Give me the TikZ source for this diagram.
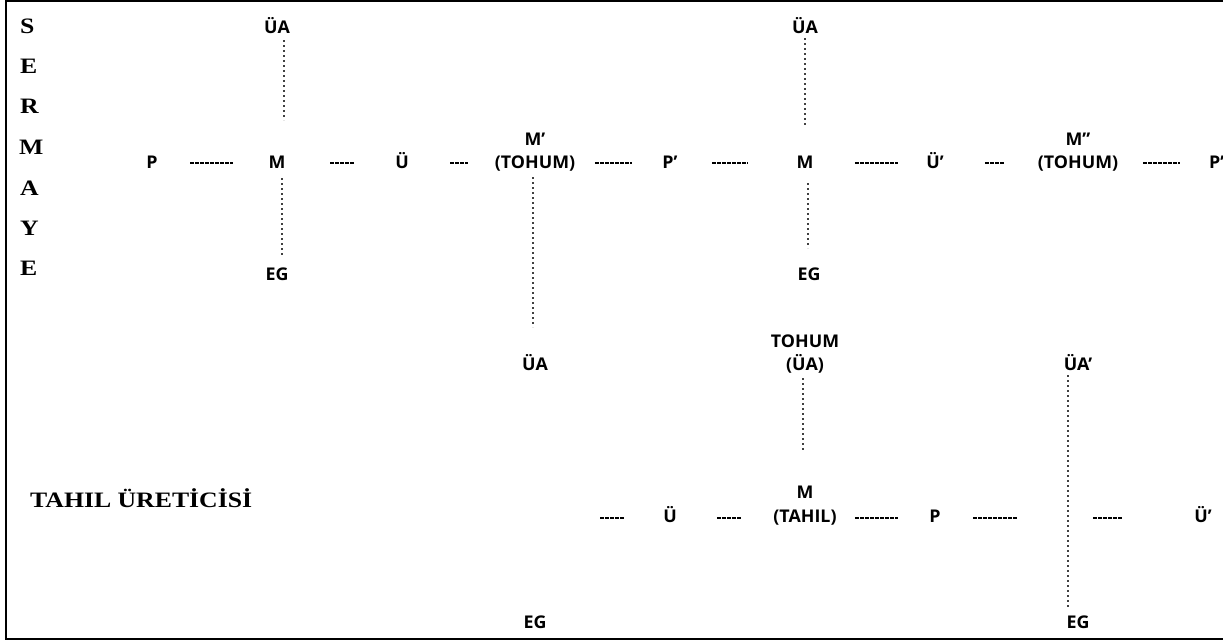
\documentclass[tikz,border=0pt]{standalone}
\usepackage{fontspec}
\setmainfont{Liberation Serif}[FakeStretch=1.17]
\newfontfamily\labfont{Open Sans}[FakeStretch=1.02]
\tikzset{
  lab/.style={inner sep=0pt, anchor=base, font=\labfont\bfseries\fontsize{17.5}{20}\selectfont},
  ser/.style={inner sep=0pt, anchor=base west, font=\bfseries\fontsize{22}{24}\selectfont},
  hd/.style={black, line width=2.2pt, dash pattern=on 3.5pt off 1.5pt},
  vd/.style={black!75, line width=2.2pt, dash pattern=on 2.2pt off 2.8pt},
  frame/.style={black, line width=2pt}
}
\begin{document}
\begin{tikzpicture}[x=1pt,y=-1pt]
\useasboundingbox (0,0) rectangle (1223,641);
\draw[frame] (1223,1) -- (6,1) -- (6,639) -- (1223,639);

% SERMAYE
\node[ser] (s1) at (20,33) {S};
\node[ser] (s2) at (20,73) {E};
\node[ser] (s3) at (20,113) {R};
\node[ser] (s4) at (19,154) {M};
\node[ser] (s5) at (20,195) {A};
\node[ser] (s6) at (20,235) {Y};
\node[ser] (s7) at (20,275) {E};
\node[ser] (tahil) at (30,507) {TAHIL ÜRETİCİSİ};

% top row
\node[lab] (P1) at (152,168) {P};
\node[lab] (M1) at (277,168) {M};
\node[lab] (U1) at (402,168) {Ü};
\node[lab] (Ma) at (535,145) {M’};
\node[lab] (T1) at (535,168) {(TOHUM)};
\node[lab] (Pp1) at (670,168) {P’};
\node[lab] (M3) at (805,168) {M};
\node[lab] (Up1) at (935,168) {Ü’};
\node[lab] (Mb) at (1078,145) {M”};
\node[lab] (T2) at (1078,168) {(TOHUM)};
\node[lab, anchor=base west] (Pp2) at (1209,168) {P’};

\node[lab] (UA1) at (277,33) {ÜA};
\node[lab] (EG1) at (277,280) {EG};
\node[lab] (UA2) at (805,33) {ÜA};
\node[lab] (EG2) at (809,280) {EG};
\node[lab] (UA3) at (535,370) {ÜA};

\node[lab] (TO) at (805,347) {TOHUM};
\node[lab] (TU) at (805,370) {(ÜA)};
\node[lab] (UAp) at (1078,370) {ÜA’};

% bottom row
\node[lab] (U2) at (670,522) {Ü};
\node[lab] (MT) at (805,498) {M};
\node[lab] (TT) at (805,522) {(TAHIL)};
\node[lab] (P2) at (935,522) {P};
\node[lab] (Up2) at (1203,522) {Ü’};
\node[lab] (EG3) at (535,628) {EG};
\node[lab] (EG4) at (1078,628) {EG};

\coordinate (b0) at (600,518);
\coordinate (cross) at (1068,518);

% horizontal dashes, top row
\draw[hd, shorten <=38pt, shorten >=44pt] ([yshift=5pt]P1.base) -- ([yshift=5pt]M1.base);
\draw[hd, shorten <=53pt, shorten >=47pt] ([yshift=5pt]M1.base) -- ([yshift=5pt]U1.base);
\draw[hd, shorten <=48pt, shorten >=67pt] ([yshift=5pt]U1.base) -- ([yshift=5pt]T1.base);
\draw[hd, shorten <=60pt, shorten >=38pt] ([yshift=5pt]T1.base) -- ([yshift=5pt]Pp1.base);
\draw[hd, shorten <=42pt, shorten >=57pt] ([yshift=5pt]Pp1.base) -- ([yshift=5pt]M3.base);
\draw[hd, shorten <=50pt, shorten >=37pt] ([yshift=5pt]M3.base) -- ([yshift=5pt]Up1.base);
\draw[hd, shorten <=50pt, shorten >=73pt] ([yshift=5pt]Up1.base) -- ([yshift=5pt]T2.base);
\draw[hd, shorten <=65pt, shorten >=29pt] ([yshift=5pt]T2.base) -- ([yshift=5pt]Pp2.base west);

% horizontal dashes, bottom row
\draw[hd, shorten >=45pt] (b0) -- ([yshift=4pt]U2.base);
\draw[hd, shorten <=47pt, shorten >=63pt] ([yshift=4pt]U2.base) -- ([yshift=4pt]TT.base);
\draw[hd, shorten <=50pt, shorten >=37pt] ([yshift=4pt]TT.base) -- ([yshift=4pt]P2.base);
\draw[hd, shorten <=38pt, shorten >=51pt] ([yshift=4pt]P2.base) -- (cross);
\draw[hd, shorten <=25pt, shorten >=80pt] (cross) -- ([yshift=4pt]Up2.base);

% vertical dotted lines
\draw[vd] ([xshift=7pt,yshift=-7pt]UA1.base) -- ([xshift=7pt,yshift=48pt]M1.base);
\draw[vd] ([xshift=5pt,yshift=-10pt]M1.base) -- ([xshift=5pt,yshift=25pt]EG1.base);
\draw[vd] ([yshift=-5pt]UA2.base) -- ([yshift=41pt]M3.base);
\draw[vd] ([xshift=3pt,yshift=-15pt]M3.base) -- ([xshift=-1pt,yshift=32pt]EG2.base);
\draw[vd] ([xshift=-2pt,yshift=-9pt]T1.base) -- ([xshift=-2pt,yshift=43pt]UA3.base);
\draw[vd] ([xshift=-2pt,yshift=-8pt]TU.base) -- ([xshift=-2pt,yshift=48pt]MT.base);
\draw[vd] ([xshift=-10pt,yshift=-5pt]UAp.base) -- ([xshift=-10pt,yshift=21pt]EG4.base);
\end{tikzpicture}
\end{document}
